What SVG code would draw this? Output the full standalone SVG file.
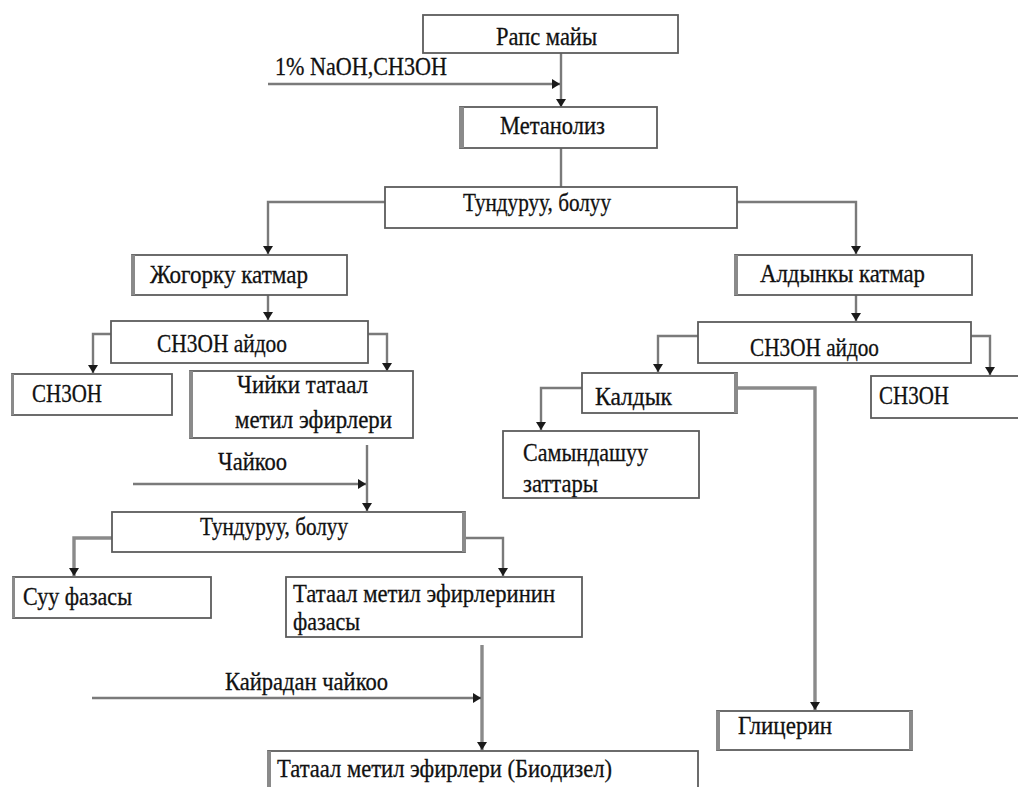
<svg xmlns="http://www.w3.org/2000/svg" width="1018" height="787" viewBox="0 0 1018 787">
  <style>
    .box { fill: #ffffff; stroke: #5c5c5c; stroke-width: 1.8; }
    .edge { fill: #8a8a8a; }
    text { font-family: "Liberation Serif", "Times New Roman", "DejaVu Serif", serif; font-size: 26px; fill: #111111; stroke: #111111; stroke-width: 0.3; }
    .wire { fill: none; stroke: #7a7a7a; stroke-width: 2.4; }
    .wire-thick { fill: none; stroke: #8a8a8a; stroke-width: 3.4; }
  </style>
  <defs>
    <marker id="tip" viewBox="0 -6 8 12" refX="8" refY="0" markerWidth="8" markerHeight="12" markerUnits="userSpaceOnUse" orient="auto">
      <path d="M0,-5 L8,0 L0,5 Z" fill="#1a1a1a"/>
    </marker>
  </defs>

  <rect width="1018" height="787" fill="#ffffff"/>

  <!-- connectors -->
  <g id="connectors">
    <path class="wire" d="M561,53 V107" marker-end="url(#tip)"/>
    <path class="wire" d="M268,84 H560" marker-end="url(#tip)"/>
    <path class="wire" d="M561,148 V187"/>
    <path class="wire" d="M385,202 H268 V254" marker-end="url(#tip)"/>
    <path class="wire" d="M737,202 H856 V254" marker-end="url(#tip)"/>
    <path class="wire" d="M268,295 V320" marker-end="url(#tip)"/>
    <path class="wire" d="M856,295 V321" marker-end="url(#tip)"/>
    <path class="wire" d="M111,334 H93 V373" marker-end="url(#tip)"/>
    <path class="wire" d="M368,334 H387 V371" marker-end="url(#tip)"/>
    <path class="wire" d="M367,445 V511" marker-end="url(#tip)"/>
    <path class="wire" d="M133,484 H366" marker-end="url(#tip)"/>
    <path class="wire-thick" d="M112,538 H74 V576" marker-end="url(#tip)"/>
    <path class="wire" d="M465,538 H503 V576" marker-end="url(#tip)"/>
    <path class="wire-thick" d="M482,645 V750" marker-end="url(#tip)"/>
    <path class="wire" d="M92,698 H481" marker-end="url(#tip)"/>
    <path class="wire" d="M698,336 H658 V372" marker-end="url(#tip)"/>
    <path class="wire" d="M971,336 H990 V375" marker-end="url(#tip)"/>
    <path class="wire" d="M582,388 H541 V430" marker-end="url(#tip)"/>
    <path class="wire-thick" d="M737,388 H815 V710" marker-end="url(#tip)"/>
  </g>

  <!-- side labels on feed arrows -->
  <g id="feed-labels">
    <text x="275" y="75" textLength="172" lengthAdjust="spacingAndGlyphs">1% NaOH,CH3OH</text>
    <text x="218" y="470" textLength="69" lengthAdjust="spacingAndGlyphs">Чайкоо</text>
    <text x="225" y="690" textLength="163" lengthAdjust="spacingAndGlyphs">Кайрадан чайкоо</text>
  </g>

  <g id="rapeseed-oil">
    <rect class="box" x="423" y="15" width="255" height="38"/>
    <text x="496" y="45" textLength="101" lengthAdjust="spacingAndGlyphs">Рапс майы</text>
  </g>

  <g id="methanolysis">
    <rect class="box" x="460" y="107" width="197" height="41"/>
    <rect class="edge" x="459" y="107" width="5" height="41"/>
    <text x="500" y="134" textLength="105" lengthAdjust="spacingAndGlyphs">Метанолиз</text>
  </g>

  <g id="settling-1">
    <rect class="box" x="385" y="187" width="352" height="41"/>
    <text x="463" y="211" textLength="148" lengthAdjust="spacingAndGlyphs">Тундуруу, болуу</text>
  </g>

  <g id="upper-layer">
    <rect class="box" x="132" y="255" width="215" height="40"/>
    <rect class="edge" x="131" y="255" width="4" height="40"/>
    <text x="150" y="283" textLength="158" lengthAdjust="spacingAndGlyphs">Жогорку катмар</text>
  </g>

  <g id="lower-layer">
    <rect class="box" x="735" y="255" width="237" height="40"/>
    <rect class="edge" x="734" y="255" width="4" height="40"/>
    <text x="760" y="282" textLength="165" lengthAdjust="spacingAndGlyphs">Алдынкы катмар</text>
  </g>

  <g id="distill-left">
    <rect class="box" x="111" y="321" width="257" height="42"/>
    <text x="157" y="352" textLength="130" lengthAdjust="spacingAndGlyphs">CH3OH айдоо</text>
  </g>

  <g id="distill-right">
    <rect class="box" x="698" y="322" width="273" height="41"/>
    <text x="750" y="356" textLength="129" lengthAdjust="spacingAndGlyphs">CH3OH айдоо</text>
  </g>

  <g id="methanol-left">
    <rect class="box" x="12" y="374" width="160" height="41"/>
    <rect class="edge" x="11" y="374" width="3" height="41"/>
    <text x="32" y="402" textLength="70" lengthAdjust="spacingAndGlyphs">CH3OH</text>
  </g>

  <g id="crude-esters">
    <rect class="box" x="190" y="371" width="223" height="67"/>
    <rect class="edge" x="189" y="371" width="4" height="67"/>
    <text x="237" y="393" textLength="131" lengthAdjust="spacingAndGlyphs">Чийки татаал</text>
    <text x="235" y="428" textLength="157" lengthAdjust="spacingAndGlyphs">метил эфирлери</text>
  </g>

  <g id="methanol-right">
    <rect class="box" x="871" y="376" width="160" height="42"/>
    <text x="879" y="404" textLength="70" lengthAdjust="spacingAndGlyphs">CH3OH</text>
  </g>

  <g id="residue">
    <rect class="box" x="582" y="373" width="155" height="40"/>
    <rect class="edge" x="734" y="373" width="4" height="40"/>
    <text x="595" y="405" textLength="77" lengthAdjust="spacingAndGlyphs">Калдык</text>
  </g>

  <g id="soap-matter">
    <rect class="box" x="503" y="431" width="196" height="67"/>
    <text x="523" y="461" textLength="125" lengthAdjust="spacingAndGlyphs">Самындашуу</text>
    <text x="523" y="492" textLength="75" lengthAdjust="spacingAndGlyphs">заттары</text>
  </g>

  <g id="settling-2">
    <rect class="box" x="112" y="512" width="353" height="40"/>
    <rect class="edge" x="462" y="512" width="4" height="40"/>
    <text x="200" y="535" textLength="148" lengthAdjust="spacingAndGlyphs">Тундуруу, болуу</text>
  </g>

  <g id="water-phase">
    <rect class="box" x="13" y="577" width="198" height="41"/>
    <rect class="edge" x="12" y="577" width="3" height="41"/>
    <text x="23" y="605" textLength="109" lengthAdjust="spacingAndGlyphs">Суу фазасы</text>
  </g>

  <g id="ester-phase">
    <rect class="box" x="286" y="577" width="296" height="60"/>
    <text x="293" y="602" textLength="262" lengthAdjust="spacingAndGlyphs">Татаал метил эфирлеринин</text>
    <text x="293" y="630" textLength="67" lengthAdjust="spacingAndGlyphs">фазасы</text>
  </g>

  <g id="biodiesel">
    <rect class="box" x="268" y="751" width="430" height="50"/>
    <rect class="edge" x="267" y="751" width="4" height="40"/>
    <text x="277" y="777" textLength="335" lengthAdjust="spacingAndGlyphs">Татаал метил эфирлери (Биодизел)</text>
  </g>

  <g id="glycerol">
    <rect class="box" x="717" y="711" width="195" height="39"/>
    <rect class="edge" x="716" y="711" width="4" height="39"/>
    <rect class="edge" x="909" y="711" width="4" height="39"/>
    <text x="738" y="734" textLength="94" lengthAdjust="spacingAndGlyphs">Глицерин</text>
  </g>
</svg>
